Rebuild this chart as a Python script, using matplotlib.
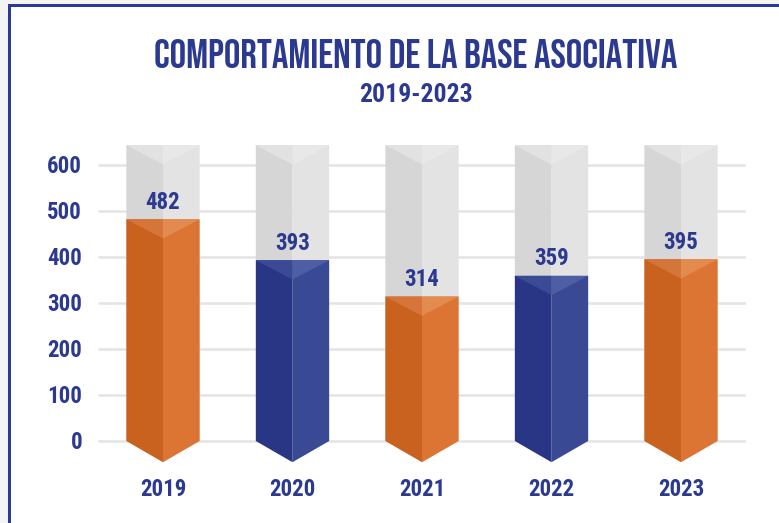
import matplotlib
matplotlib.use("Agg")
import matplotlib.pyplot as plt
from matplotlib import font_manager
from matplotlib.patches import Polygon, Rectangle

years = ["2019", "2020", "2021", "2022", "2023"]
values = [482, 393, 314, 359, 395]
series_color = ["orange", "blue", "orange", "blue", "orange"]
yticks = [0, 100, 200, 300, 400, 500, 600]
title = "COMPORTAMIENTO DE LA BASE ASOCIATIVA"
subtitle = "2019-2023"

names = {f.name for f in font_manager.fontManager.ttflist}


def pick(*cands):
    for c in cands:
        if c in names:
            return c
    return "DejaVu Sans"


TFONT = pick("Bebas Neue", "League Gothic", "Oswald", "Roboto Condensed")
LFONT = pick("Roboto Condensed", "PT Sans Narrow", "Archivo Narrow", "Liberation Sans")
NAVY = "#2B3990"

palette = {
    "orange": ("#C9611F", "#DC7434", "#D5753A", "#E38A4E"),
    "blue": ("#283685", "#3A4993", "#3B4A94", "#4E5EA4"),
}
gray = ("#D6D6D6", "#E3E3E3", "#E2E2E2", "#E8E8E8")

W, H = 779, 523
fig = plt.figure(figsize=(W / 100, H / 100), dpi=100)
fig.patch.set_facecolor("white")

# frame
fig.add_artist(Rectangle((0, 0), 8 / W, 1, transform=fig.transFigure, color="#F4F4F4", lw=0))
fig.add_artist(Rectangle((0, 1 - 4 / H), 1, 4 / H, transform=fig.transFigure, color="#F4F4F4", lw=0))
fig.add_artist(Rectangle((8 / W, 0), 3 / W, 1 - 4 / H, transform=fig.transFigure, color="#2B3A9A", lw=0))
fig.add_artist(Rectangle((8 / W, 1 - 7 / H), 1, 3 / H, transform=fig.transFigure, color="#2B3A9A", lw=0))

# axes geometry: value 0 at y=441px, 600 at 165px
ppu = 0.46
y0px = 441
ylo, yhi = -80, 700
bot_px = y0px - ylo * ppu
top_px = y0px - yhi * ppu
ax = fig.add_axes([98.25 / W, (H - bot_px) / H, 647.5 / W, (bot_px - top_px) / H])
ax.set_xlim(-0.5, 4.5)
ax.set_ylim(ylo, yhi)
ax.axis("off")

# gridlines
for t in yticks:
    ax.plot([-0.5, 4.5], [t, t], color="#E4E4E4", lw=1.8, zorder=0, solid_capstyle="butt")

hw = 0.283
tip = 46
notch = 42
gtop = 643


def prism(ax, x, top, cols, z):
    dl, dr, tl, tr = cols
    ax.add_patch(Polygon([(x - hw, top), (x - hw, 0), (x, -tip), (x, top)], closed=True,
                         facecolor=dl, edgecolor="none", zorder=z))
    ax.add_patch(Polygon([(x, top), (x, -tip), (x + hw, 0), (x + hw, top)], closed=True,
                         facecolor=dr, edgecolor="none", zorder=z))
    ax.add_patch(Polygon([(x - hw, top), (x, top - notch), (x, top)], closed=True,
                         facecolor=tl, edgecolor="none", zorder=z + 0.1))
    ax.add_patch(Polygon([(x, top), (x, top - notch), (x + hw, top)], closed=True,
                         facecolor=tr, edgecolor="none", zorder=z + 0.1))


LS = 16.5
for i, (v, c) in enumerate(zip(values, series_color)):
    prism(ax, i, gtop, gray, 1)
    prism(ax, i, v, palette[c], 2)
    ax.annotate(str(v), (i, v), xytext=(0, 7.6), textcoords="offset points",
                ha="center", va="baseline", fontsize=LS, fontweight="bold",
                color=NAVY, family=LFONT, zorder=5)
    ax.text(i, (y0px - 495.5) / ppu, years[i], ha="center", va="baseline",
            fontsize=LS, fontweight="bold", color=NAVY, family=LFONT)

for t in yticks:
    ax.annotate(str(t), (-0.5, t), xytext=(-16.25 * 0.72, -6.1), textcoords="offset points",
                ha="right", va="baseline", fontsize=LS, fontweight="bold",
                color=NAVY, family=LFONT, annotation_clip=False)

fig.text(416 / W, 1 - 68 / H, title, ha="center", va="baseline", fontsize=29.6,
         color=NAVY, family=TFONT)
fig.text(416 / W, 1 - 102 / H, subtitle, ha="center", va="baseline", fontsize=18.5,
         fontweight="bold", color=NAVY, family=LFONT)

fig.savefig("out.png", dpi=100)
